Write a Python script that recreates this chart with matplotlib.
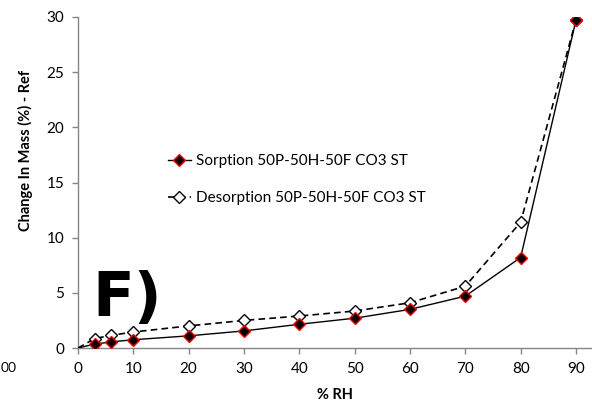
import numpy as np
import matplotlib.pyplot as plt

# dane
rh = [0, 3, 6, 10, 20, 30, 40, 50, 60, 70, 80, 90]
sorption = [0, 0.35, 0.55, 0.75, 1.1, 1.55, 2.15, 2.7, 3.5, 4.7, 8.2, 29.7]
desorption = [0, 0.85, 1.15, 1.45, 2.0, 2.5, 2.9, 3.35, 4.1, 5.6, 11.4, 29.7]
sorption_label = 'Sorption 50P-50H-50F CO3 ST'
desorption_label = 'Desorption 50P-50H-50F CO3 ST'
x_ticks = [0, 10, 20, 30, 40, 50, 60, 70, 80, 90]
y_ticks = [0, 5, 10, 15, 20, 25, 30]

plt.rcParams['font.family'] = ['Lato', 'DejaVu Sans']
grey = '#868686'

fig = plt.figure(figsize=(5.92, 4.04), dpi=100)
ax = fig.add_axes([78 / 592, 56 / 404, 514 / 592, 331 / 404])

ax.plot(rh, desorption, color='black', linestyle=(0, (4, 2.5)), linewidth=1.2,
        marker='D', markersize=6, markerfacecolor='white', markeredgecolor='black',
        markeredgewidth=1, markevery=list(range(1, len(rh))), label=desorption_label, zorder=3)
ax.plot(rh, sorption, color='black', linewidth=1.0,
        marker='D', markersize=6.5, markerfacecolor='black', markeredgecolor='red',
        markeredgewidth=1, markevery=list(range(1, len(rh))), label=sorption_label, zorder=4)

ax.set_xlim(0, 92.9)
ax.set_ylim(0, 30)
ax.set_xticks(x_ticks)
ax.set_yticks(y_ticks)
ax.tick_params(axis='both', colors=grey, length=4, width=1, labelsize=11, labelcolor='black')
ax.tick_params(axis='x', pad=6)
ax.tick_params(axis='y', pad=6)
for s in ['top', 'right']:
    ax.spines[s].set_visible(False)
for s in ['left', 'bottom']:
    ax.spines[s].set_color(grey)
    ax.spines[s].set_linewidth(1)

ax.set_xlabel('% RH', fontsize=10.5, fontweight='bold', labelpad=9)
fig.text(25 / 592, 1 - 150 / 404, 'Change In Mass (%) - Ref', rotation=90,
         fontsize=10.5, fontweight='bold', ha='center', va='center')

# kolejnosc w legendzie: sorpcja, potem desorpcja
handles, labels = ax.get_legend_handles_labels()
ax.legend(handles[::-1], labels[::-1], loc='upper left',
          bbox_to_anchor=(168 / 592, 1 - 154 / 404), bbox_transform=fig.transFigure,
          frameon=False, fontsize=11, handlelength=1.5, handletextpad=0.3,
          labelspacing=1.5, borderpad=0, borderaxespad=0)

# duza litera panelu
fig.text(92 / 592, 1 - 316 / 404, 'F)', fontsize=44, fontweight='bold',
         family='DejaVu Sans', ha='left', va='baseline')

# resztka sasiedniego wykresu na lewej krawedzi
fig.text(1 / 592, 1 - 368 / 404, '00', fontsize=10, ha='left', va='center')

fig.savefig('out.png', dpi=100)
